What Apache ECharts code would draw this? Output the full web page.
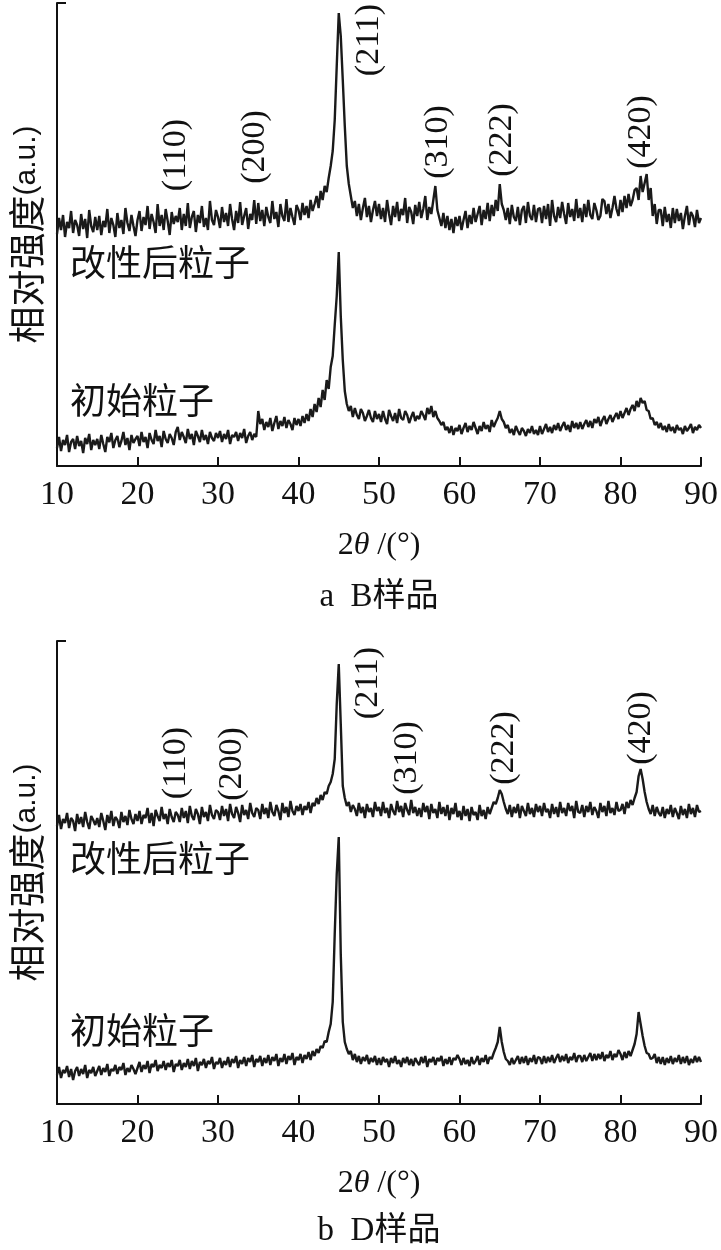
<!DOCTYPE html>
<html><head><meta charset="utf-8">
<script src="https://cdn.jsdelivr.net/npm/echarts@6/dist/echarts.min.js"></script>
<style>html,body{margin:0;padding:0;background:#fff}#c{width:721px;height:1250px}</style>
</head><body><div id="c"></div>
<script>
// sampling positions (2θ, degrees) 10..90 every 0.25
const angles = [];
for (let i = 0; i <= 320; i++) angles.push(10 + i * 0.25);
const xTicks = [10, 20, 30, 40, 50, 60, 70, 80, 90];

// Panel a (B样品) — relative intensity (one row = 5°)
const bModified = [
232,248,236,251,229,244,238,255,233,246,241,230,252,237,247,228,256,240,234,249,
236,250,231,245,239,257,233,248,241,229,253,238,246,232,258,243,235,251,240,230,
246,255,235,249,241,260,237,252,244,233,262,240,251,236,257,245,231,254,242,250,
244,258,236,252,240,263,238,249,255,234,251,243,260,239,248,236,265,246,241,256,
249,238,259,244,253,240,262,247,236,255,243,264,241,250,258,237,252,246,266,242,
263,245,256,240,259,249,243,265,247,254,239,262,250,245,267,244,258,249,241,261,
256,246,263,251,260,248,266,255,262,270,258,275,266,280,274,288,300,315,346,400,
453,430,386,340,300,282,270,258,265,250,262,246,258,268,249,260,244,256,265,250,
262,247,258,244,266,252,241,260,249,264,245,257,251,268,243,259,254,242,261,250,
264,248,257,270,246,259,252,266,280,256,248,240,253,238,250,236,247,233,249,240,
250,236,246,255,238,251,242,258,244,252,260,241,256,247,263,245,261,250,266,255,
282,262,256,246,258,242,261,249,245,259,241,256,260,243,264,250,246,261,244,257,
258,243,260,247,262,240,266,250,244,259,248,264,252,242,263,249,257,245,267,248,
258,244,262,249,266,251,247,263,256,246,250,267,265,252,262,248,258,270,257,250,
266,254,270,258,272,260,266,276,278,266,290,274,283,292,266,278,250,262,242,256,
256,240,259,244,252,238,258,243,257,245,253,237,250,260,241,254,250,239,256,243,
248];
const bInitial = [
18,29,15,26,21,31,14,24,27,17,30,20,25,13,28,22,32,16,26,21,
27,17,31,22,14,29,24,33,18,26,30,19,25,34,21,28,16,31,23,27,
30,20,34,24,29,18,33,26,22,36,25,30,19,35,27,23,32,28,21,34,
39,26,34,29,23,37,27,32,21,35,30,24,36,26,31,22,34,28,25,33,
28,35,24,32,27,36,22,31,29,34,25,33,28,37,23,30,34,26,32,29,
55,42,47,36,44,39,48,35,43,50,37,45,40,49,38,46,42,36,48,41,
47,40,50,43,52,45,57,49,62,54,68,59,76,66,86,77,99,110,141,170,
214,150,106,75,62,55,60,49,58,51,47,57,53,45,50,56,48,44,55,47,
52,44,55,47,42,56,50,45,53,43,57,48,46,55,51,43,49,54,45,50,
47,55,51,46,58,52,60,49,55,48,45,41,44,36,39,33,40,31,38,35,
41,32,38,43,34,40,36,44,38,32,40,35,44,37,41,34,46,39,44,48,
55,47,44,38,41,33,37,31,40,35,31,38,35,30,37,33,40,32,36,31,
40,32,37,42,34,39,33,41,36,43,35,40,44,36,41,34,45,38,43,37,
44,37,42,46,39,45,38,47,43,49,40,46,50,42,47,51,44,49,53,47,
55,48,53,58,51,57,61,55,65,59,68,63,65,56,55,47,48,41,44,38,
43,36,40,34,42,35,39,33,41,36,38,32,40,35,38,42,33,39,36,41,
38];

// Panel b (D样品)
const dModified = [
278,289,275,285,281,291,276,286,283,273,290,280,287,277,292,282,275,288,284,279,
286,277,291,283,274,289,281,293,278,287,284,276,292,282,288,279,294,285,280,290,
283,293,280,289,286,296,281,291,278,294,288,283,297,285,290,280,295,287,282,292,
289,282,296,286,293,281,298,288,284,295,290,280,297,287,292,283,299,289,285,294,
292,284,298,288,295,283,300,290,286,297,291,282,299,289,294,285,301,291,287,296,
294,285,300,290,296,286,302,292,288,299,293,284,301,291,297,287,303,293,289,298,
293,300,289,298,294,302,291,301,298,306,300,309,304,312,310,318,322,330,345,400,
440,380,318,306,298,302,292,299,295,288,301,291,297,286,300,292,296,287,302,293,
297,288,302,291,296,286,300,293,289,303,292,298,287,301,294,289,304,291,297,288,
296,287,301,292,298,285,300,291,295,286,302,290,297,288,299,284,296,290,301,287,
293,284,298,288,295,283,297,289,292,284,299,288,294,285,297,290,296,302,300,306,
314,310,302,295,290,299,287,297,291,300,286,298,293,288,301,290,296,287,300,292,
298,288,301,292,295,286,300,290,297,287,302,291,296,288,301,293,298,286,303,292,
291,299,287,298,292,302,289,297,293,286,301,292,298,288,303,291,296,289,302,293,
294,300,290,302,296,304,299,306,312,328,335,325,312,302,295,290,299,288,297,291,
288,297,286,295,290,299,287,296,291,285,298,289,295,286,300,290,296,287,299,292,
293];
const dInitial = [
29,37,26,34,31,38,27,35,24,33,37,28,35,30,39,26,34,31,37,28,
33,38,29,36,32,40,28,35,33,39,30,37,34,41,29,36,32,39,35,30,
36,42,32,39,35,43,31,40,37,44,33,39,36,43,34,41,37,44,32,40,
38,44,34,41,37,45,35,43,38,46,33,42,39,45,36,43,40,47,35,42,
40,46,36,43,39,47,37,45,41,48,36,44,40,47,38,46,42,49,37,45,
42,48,38,46,41,49,39,47,43,50,38,46,42,50,40,48,44,51,39,47,
44,50,41,49,45,52,44,53,48,55,51,58,56,63,62,72,80,102,170,230,
267,150,82,62,55,50,53,44,50,42,48,40,47,43,49,40,46,42,48,39,
46,39,47,42,45,37,46,41,48,40,44,37,46,41,47,39,45,38,46,42,
39,47,41,48,37,45,42,47,39,46,43,48,38,45,40,47,39,46,44,49,
45,39,46,40,44,38,47,40,43,48,39,46,42,49,40,47,45,51,56,62,
77,62,52,45,43,39,46,40,44,48,40,47,41,48,39,46,42,49,40,47,
46,40,48,41,47,42,49,41,46,50,42,48,43,50,41,47,44,51,42,48,
48,42,49,43,47,51,43,50,44,50,45,52,43,49,46,53,44,50,47,54,
50,44,52,46,53,48,54,60,70,92,80,68,58,51,50,45,46,50,41,47,
40,47,39,46,41,48,40,46,42,49,40,47,41,48,39,45,41,48,42,47,
42];

const hklLabels = ['(110)', '(200)', '(211)', '(310)', '(222)', '(420)'];
const hklAnglesA = [24.8, 34.6, 48.8, 57.3, 65.3, 82.6];
const hklHeightsA = [311, 319, 426, 324, 326, 334];
const hklAnglesB = [24.8, 31.8, 48.7, 53.5, 65.5, 82.6];
const hklHeightsB = [341, 340, 421, 346, 356, 376];

const sampleNames = ['改性后粒子', '初始粒子'];
const captions = ['a  B样品', 'b  D样品'];
const yName = '相对强度';
const yUnit = '(a.u.)';

const chart = echarts.init(document.getElementById('c'), null, {renderer: 'canvas'});
const pairs = arr => angles.map((a, i) => [a, arr[i]]);
const serif = "'Liberation Serif', 'Noto Sans CJK SC', serif";

function xAxisCfg(gi) {
  return {
    type: 'value', gridIndex: gi, min: 10, max: 90, interval: 10,
    axisLine: {show: true, lineStyle: {color: '#111', width: 2}},
    axisTick: {show: true, inside: true, length: 9, lineStyle: {color: '#111', width: 2}},
    axisLabel: {color: '#111', fontFamily: 'Liberation Serif', fontSize: 34, margin: 12},
    splitLine: {show: false},
    name: '{n|2}{t|θ}{n| /(°)}',
    nameLocation: 'middle', nameGap: 64,
    nameTextStyle: {rich: {
      n: {fontFamily: 'Liberation Serif', fontSize: 32, color: '#111'},
      t: {fontFamily: 'Liberation Serif', fontSize: 32, fontStyle: 'italic', color: '#111'}
    }}
  };
}
function yAxisCfg(gi) {
  return {
    type: 'value', gridIndex: gi, min: 0, max: 463, interval: 463,
    axisLine: {show: true, lineStyle: {color: '#111', width: 2}},
    axisTick: {show: true, inside: true, length: 9, lineStyle: {color: '#111', width: 2}},
    axisLabel: {show: false},
    splitLine: {show: false},
    name: '{c|' + yName + '}{l|' + yUnit + '}',
    nameLocation: 'middle', nameRotate: 90, nameGap: 12,
    nameTextStyle: {rich: {
      c: {fontFamily: 'Noto Sans CJK SC', fontSize: 37, color: '#111'},
      l: {fontFamily: 'Liberation Sans', fontSize: 30, color: '#111'}
    }}
  };
}
function lineSeries(arr, gi) {
  return {
    type: 'line', xAxisIndex: gi, yAxisIndex: gi, data: pairs(arr),
    symbol: 'none', lineStyle: {color: '#1a1a1a', width: 2.4}, silent: true
  };
}

chart.setOption({
  animation: false,
  backgroundColor: '#fff',
  grid: [
    {left: 56, right: 20, top: 3, height: 463},
    {left: 56, right: 20, top: 641, height: 463}
  ],
  xAxis: [xAxisCfg(0), xAxisCfg(1)],
  yAxis: [yAxisCfg(0), yAxisCfg(1)],
  series: [
    lineSeries(bModified, 0), lineSeries(bInitial, 0),
    lineSeries(dModified, 1), lineSeries(dInitial, 1)
  ]
});

const graphics = [];
function addHkl(gi, angs, hts) {
  hklLabels.forEach((t, i) => {
    const p = chart.convertToPixel({gridIndex: gi}, [angs[i], hts[i]]);
    graphics.push({
      type: 'text', x: p[0], y: p[1], rotation: Math.PI / 2,
      style: {text: t, fill: '#111', font: "34px 'Liberation Serif'", align: 'center', verticalAlign: 'middle'}
    });
  });
}
addHkl(0, hklAnglesA, hklHeightsA);
addHkl(1, hklAnglesB, hklHeightsB);

const cjkFont = "36px 'Noto Sans CJK SC'";
[[262, 400], [858, 1030]].forEach(ys => {
  graphics.push({type: 'text', x: 70, y: ys[0], style: {text: sampleNames[0], fill: '#111', font: cjkFont, align: 'left', verticalAlign: 'middle'}});
  graphics.push({type: 'text', x: 70, y: ys[1], style: {text: sampleNames[1], fill: '#111', font: cjkFont, align: 'left', verticalAlign: 'middle'}});
});
graphics.push({type: 'text', x: 379, y: 597, style: {text: captions[0], fill: '#111', font: "33px " + serif, align: 'center', verticalAlign: 'middle'}});
graphics.push({type: 'text', x: 379, y: 1231, style: {text: captions[1], fill: '#111', font: "33px " + serif, align: 'center', verticalAlign: 'middle'}});

chart.setOption({graphic: graphics});
</script>
</body></html>
